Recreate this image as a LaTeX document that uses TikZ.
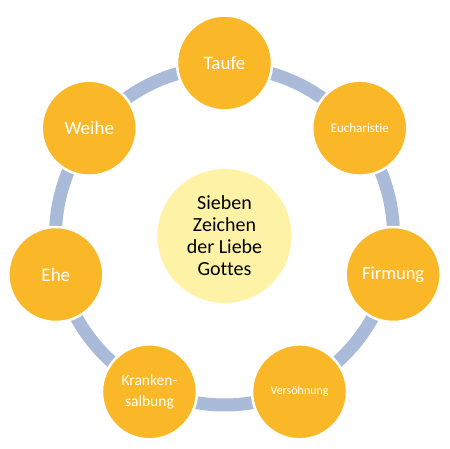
\documentclass[tikz,border=0pt]{standalone}
\usepackage{fontspec}
\setmainfont[Ligatures={NoCommon}]{Carlito}
\usetikzlibrary{calc}
\definecolor{sacorange}{RGB}{250,184,40}
\definecolor{ringblue}{RGB}{169,187,217}
\definecolor{coreyellow}{RGB}{253,242,166}
\begin{document}
\begin{tikzpicture}[x=1pt,y=1pt,
  sac/.style={circle, fill=sacorange, draw=white, line width=2.5pt,
    minimum size=95pt, inner sep=0pt, text=white, align=center, font=\fontsize{19}{21}\selectfont},
  core/.style={circle, fill=coreyellow, minimum size=134pt, inner sep=0pt,
    align=center, font=\fontsize{20}{22}\selectfont, text=black}]
\useasboundingbox (0,0) rectangle (450,449);
\coordinate (c) at (224.5,213);
\draw[ringblue, line width=13pt] (c) circle[radius=169];
\node[core] (center) at (c) {Sieben\\Zeichen\\der Liebe\\Gottes};
\node[sac] (taufe) at ($(c)+(90:173)$) {Taufe};
\node[sac, font=\fontsize{13}{15}\selectfont] (euch) at ($(c)+(38.571:173)$) {Eucharistie};
\node[sac, font=\fontsize{18.5}{21}\selectfont] (firm) at ($(c)+(-12.857:173)$) {Firmung};
\node[sac, font=\fontsize{12}{14}\selectfont] (vers) at ($(c)+(-64.286:173)$) {Versöhnung};
\node[sac, font=\fontsize{15.5}{21}\selectfont] (krank) at ($(c)+(-115.714:173)$) {Kranken-\\salbung};
\node[sac] (ehe) at ($(c)+(-167.143:173)$) {Ehe};
\node[sac] (weihe) at ($(c)+(141.429:173)$) {Weihe};
\end{tikzpicture}
\end{document}
